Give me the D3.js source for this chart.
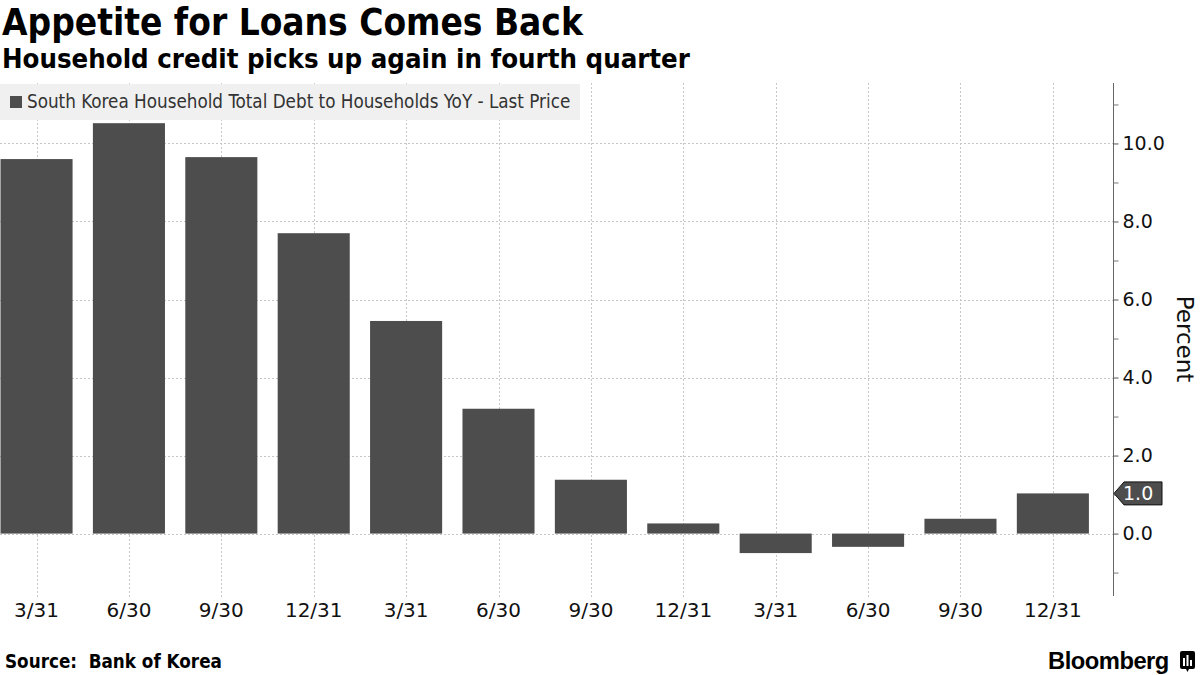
<!DOCTYPE html>
<html>
<head>
<meta charset="utf-8">
<script src="https://cdn.jsdelivr.net/npm/d3@7"></script>
<style>
  html, body { margin: 0; padding: 0; background: #fff; }
  svg { display: block; }
</style>
</head>
<body>
<svg id="chart" width="1200" height="675"></svg>
<script>
// ---- data ----
const categories = ["2015Q1","2015Q2","2015Q3","2015Q4","2016Q1","2016Q2","2016Q3","2016Q4","2017Q1","2017Q2","2017Q3","2017Q4"];
const tickLabels = ["3/31","6/30","9/30","12/31","3/31","6/30","9/30","12/31","3/31","6/30","9/30","12/31"];
const values = [9.6, 10.52, 9.65, 7.7, 5.45, 3.2, 1.38, 0.26, -0.5, -0.34, 0.38, 1.03];
const yTicks = [0, 2, 4, 6, 8, 10];
const yMinorTicks = [-1, 1, 3, 5, 7, 9, 11];
const title = "Appetite for Loans Comes Back";
const subtitle = "Household credit picks up again in fourth quarter";
const legendLabel = "South Korea Household Total Debt to Households YoY - Last Price";
const lastPrice = "1.0";
const source = "Source:\u00a0\u00a0Bank of Korea";

const svg = d3.select("#chart");
const FONT = "'DejaVu Sans', Verdana, sans-serif";
const FONT_C = "'DejaVu Sans Condensed', 'DejaVu Sans', sans-serif";
const BAR = "#4d4d4d";
const GRID = "#c6c6c6";

const x = d3.scaleBand().domain(categories).range([-45.7, 1135.1]).paddingInner(0.22).paddingOuter(0.5);
const y = d3.scaleLinear().domain([-1.6, 11.55]).range([596, 83]);
const axisX = 1113;

// fit helper: scale font size so text spans target width
function fit(sel, w) {
  const l = sel.node().getComputedTextLength();
  const fs = parseFloat(sel.attr("font-size"));
  sel.attr("font-size", (fs * w / l).toFixed(2));
}

// gridlines
const g = svg.append("g");
g.selectAll("line.hg").data(yTicks).join("line")
  .attr("x1", 0).attr("x2", axisX)
  .attr("y1", d => Math.round(y(d)) + 0.5).attr("y2", d => Math.round(y(d)) + 0.5)
  .attr("stroke", GRID).attr("stroke-dasharray", "2,2").attr("stroke-width", 1);
g.selectAll("line.vg").data(categories).join("line")
  .attr("x1", d => Math.round(x(d) + x.bandwidth() / 2) + 0.5)
  .attr("x2", d => Math.round(x(d) + x.bandwidth() / 2) + 0.5)
  .attr("y1", 83).attr("y2", 598)
  .attr("stroke", GRID).attr("stroke-dasharray", "2,2").attr("stroke-width", 1);

// bars
svg.append("g").selectAll("rect").data(categories).join("rect")
  .attr("x", d => x(d))
  .attr("width", x.bandwidth())
  .attr("y", (d, i) => y(Math.max(0, values[i])))
  .attr("height", (d, i) => Math.abs(y(values[i]) - y(0)))
  .attr("fill", BAR);

// legend
svg.append("rect").attr("x", 0).attr("y", 84).attr("width", 580).attr("height", 36).attr("fill", "#f0f0f0");
svg.append("rect").attr("x", 10).attr("y", 96).attr("width", 12).attr("height", 12).attr("fill", BAR);
const lg = svg.append("text").attr("x", 27).attr("y", 108).attr("font-family", FONT_C)
  .attr("font-size", 16).attr("fill", "#333").text(legendLabel);
fit(lg, 544);

// y axis (right)
const yAxis = d3.axisRight(y).tickValues(yTicks).tickSize(5).tickFormat(d3.format(".1f"));
const ya = svg.append("g").attr("transform", `translate(${axisX + 0.5},0)`).call(yAxis);
ya.select(".domain").attr("stroke", "#666").attr("d", `M0,83V596`);
ya.selectAll(".tick line").attr("stroke", "#555");
ya.selectAll(".tick text").attr("font-family", FONT).attr("font-size", 19).attr("fill", "#111").attr("x", 9);
const yMinor = d3.axisRight(y).tickValues(yMinorTicks).tickSize(5).tickFormat("");
const ym = svg.append("g").attr("transform", `translate(${axisX + 0.5},0)`).call(yMinor);
ym.select(".domain").remove();
ym.selectAll(".tick line").attr("stroke", "#777");

// y axis title
svg.append("text").attr("transform", `translate(1177,339) rotate(90)`)
  .attr("text-anchor", "middle").attr("font-family", FONT).attr("font-size", 23).attr("fill", "#111").text("Percent");

// last price tag
const ly = y(values[values.length - 1]);
svg.append("path")
  .attr("d", `M${axisX + 1},${ly} L${axisX + 11},${ly - 11.5} L${axisX + 49},${ly - 11.5} L${axisX + 49},${ly + 11.5} L${axisX + 11},${ly + 11.5} Z`)
  .attr("fill", BAR).attr("stroke", "#111").attr("stroke-width", 1);
svg.append("text").attr("x", axisX + 10).attr("y", ly + 7).attr("font-family", FONT).attr("font-size", 19)
  .attr("fill", "#fff").text(lastPrice);

// x axis labels
const xAxis = d3.axisBottom(x).tickSize(0).tickFormat((d, i) => tickLabels[i]);
const xa = svg.append("g").attr("transform", "translate(0,596)").call(xAxis);
xa.select(".domain").remove();
xa.selectAll(".tick text").attr("font-family", FONT).attr("font-size", 20).attr("fill", "#111").attr("dy", 0).attr("y", 21);

// titles
const t = svg.append("text").attr("x", 2).attr("y", 35).attr("font-family", FONT_C).attr("font-weight", "bold")
  .attr("font-size", 32).attr("fill", "#000").text(title);
fit(t, 581);
const st = svg.append("text").attr("x", 2).attr("y", 68).attr("font-family", FONT_C).attr("font-weight", "bold")
  .attr("font-size", 24).attr("fill", "#000").text(subtitle);
fit(st, 688);

// footer
const src = svg.append("text").attr("x", 5).attr("y", 668).attr("font-family", FONT_C).attr("font-weight", "bold")
  .attr("font-size", 16).attr("fill", "#000").text(source);
fit(src, 217);
const bb = svg.append("text").attr("x", 1048).attr("y", 669).attr("font-family", "'Liberation Sans', Arial, sans-serif").attr("font-weight", "bold")
  .attr("font-size", 20).attr("fill", "#000").attr("letter-spacing", -0.5).text("Bloomberg");
fit(bb, 120);
// logo icon
const ic = svg.append("g").attr("transform", "translate(1180,651)");
ic.append("rect").attr("width", 15).attr("height", 18).attr("rx", 2).attr("fill", "#000");
ic.append("path").attr("d", "M6,18 L7.5,21 L9,18 Z").attr("fill", "#000");
ic.append("rect").attr("x", 3).attr("y", 7).attr("width", 2).attr("height", 8).attr("fill", "#fff");
ic.append("rect").attr("x", 6.5).attr("y", 4).attr("width", 2).attr("height", 11).attr("fill", "#fff");
ic.append("rect").attr("x", 10).attr("y", 9).attr("width", 2).attr("height", 6).attr("fill", "#fff");
</script>
</body>
</html>
